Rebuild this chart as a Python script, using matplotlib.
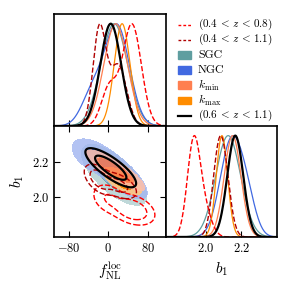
import numpy as np
import matplotlib
matplotlib.use('Agg')
import matplotlib.pyplot as plt
from matplotlib import rcParams
from matplotlib.lines import Line2D
from matplotlib.patches import Rectangle
from matplotlib.colors import to_rgb

rcParams['font.family'] = 'serif'
rcParams['font.serif'] = ['cmr10']
rcParams['mathtext.fontset'] = 'cm'
rcParams['axes.formatter.use_mathtext'] = True
rcParams['axes.linewidth'] = 1.2
rcParams['font.size'] = 9

# posterior summaries: mixture components
# (weight, mean fNL, mean b1, sigma fNL, sigma b1, correlation)
comp_z08 = [(0.76, 48, 1.93, 19, 0.036, -0.35),
            (0.24, 2, 1.99, 16, 0.04, -0.3)]
comp_z11 = [(0.55, -18, 2.10, 13, 0.036, -0.5),
            (0.45, 20, 2.065, 17, 0.034, -0.5)]
comp_sgc = [(1.0, 12, 2.125, 27, 0.07, -0.7)]
comp_ngc = [(0.78, 18, 2.14, 25, 0.062, -0.78),
            (0.22, -32, 2.23, 22, 0.05, -0.5)]
comp_kmin = [(1.0, 15, 2.15, 24, 0.047, -0.85)]
comp_kmax = [(1.0, 28, 2.09, 16, 0.032, -0.7)]
comp_main = [(1.0, 5, 2.165, 21, 0.045, -0.8)]

legend_texts = [r'$(0.4\,<\,z\,<\,0.8)$', r'$(0.4\,<\,z\,<\,1.1)$', 'SGC', 'NGC',
                r'$k_{\rm min}$', r'$k_{\rm max}$', r'$(0.6\,<\,z\,<\,1.1)$']
fnl_ticks = [-80, 0, 80]
b1_ticks = [2.0, 2.2]
fnl_lim = (-110, 117)
b1_lim = (1.775, 2.40)

F, B = np.meshgrid(np.linspace(*fnl_lim, 300), np.linspace(*b1_lim, 300))


def density(comps):
    p = np.zeros_like(F)
    for w, mf, mb, sf, sb, r in comps:
        x = (F - mf) / sf
        y = (B - mb) / sb
        q = (x**2 - 2*r*x*y + y**2) / (1 - r**2)
        p += w * np.exp(-0.5*q) / (sf*sb*np.sqrt(1 - r**2))
    return p


def levels(p):
    s = np.sort(p.ravel())[::-1]
    c = np.cumsum(s) / s.sum()
    return [s[np.searchsorted(c, 0.95)], s[np.searchsorted(c, 0.68)]]


def lighter(c, f=0.5):
    c = np.array(to_rgb(c))
    return tuple(c + (1 - c)*f)


fig = plt.figure(figsize=(2.91, 2.91), dpi=100)
W = 291.
ax_f = fig.add_axes([54/W, 1-126/W, 112/W, 112/W])
ax_2d = fig.add_axes([54/W, 1-237/W, 112/W, 111/W])
ax_b = fig.add_axes([166/W, 1-237/W, 111/W, 111/W])

fnl = F[0]
b1 = B[:, 0]

filled = [(comp_sgc, 'cadetblue', 0.8), (comp_ngc, 'royalblue', 0.8),
          (comp_kmax, 'darkorange', 0.9), (comp_kmin, 'coral', 0.85)]
lined = [(comp_z08, 'red', '--', 1.0), (comp_z11, '#b00000', '--', 1.0),
         (comp_main, 'black', '-', 1.6)]

for comps, col, a in filled:
    p = density(comps)
    l95, l68 = levels(p)
    ax_2d.contourf(F, B, p, levels=[l95, l68, p.max()*1.01],
                   colors=[lighter(col, 0.5), col], alpha=a)
    pf = p.sum(axis=0); pb = p.sum(axis=1)
    ax_f.plot(fnl, pf/pf.max(), color=col, lw=0.9)
    ax_b.plot(b1, pb/pb.max(), color=col, lw=0.9)

for comps, col, ls, lw in lined:
    p = density(comps)
    ax_2d.contour(F, B, p, levels=levels(p), colors=col, linestyles=ls, linewidths=lw)
    pf = p.sum(axis=0); pb = p.sum(axis=1)
    ax_f.plot(fnl, pf/pf.max(), color=col, ls=ls, lw=lw)
    ax_b.plot(b1, pb/pb.max(), color=col, ls=ls, lw=lw)

ax_f.set_xlim(fnl_lim); ax_f.set_ylim(0, 1.095)
ax_f.set_xticks(fnl_ticks); ax_f.set_xticklabels([]); ax_f.set_yticks([])
ax_f.tick_params(direction='in', length=4)

ax_2d.set_xlim(fnl_lim); ax_2d.set_ylim(b1_lim)
ax_2d.set_xticks(fnl_ticks); ax_2d.set_yticks(b1_ticks)
ax_2d.tick_params(direction='in', top=True, right=True, length=4, labelsize=9)
ax_2d.set_xlabel(r'$f_{\rm NL}^{\rm loc}$', fontsize=11)
ax_2d.set_ylabel(r'$b_1$', fontsize=11)

ax_b.set_xlim(b1_lim); ax_b.set_ylim(0, 1.095)
ax_b.set_xticks(b1_ticks); ax_b.set_yticks([])
ax_b.tick_params(direction='in', length=4, labelsize=9)
ax_b.set_xlabel(r'$b_1$', fontsize=11)

# legend rows placed by hand (pixel rows of the reference)
kinds = [('line', 'red', '--'), ('line', '#b00000', '--'),
         ('patch', 'cadetblue', None), ('patch', 'royalblue', None),
         ('patch', 'coral', None), ('patch', 'darkorange', None),
         ('line', 'black', '-')]
for i, ((kind, col, ls), txt) in enumerate(zip(kinds, legend_texts)):
    yc = 1 - (24.5 + 15.2*i)/W
    if kind == 'line':
        lw = 1.6 if ls == '-' else 1.0
        ln = Line2D([178/W, 191/W], [yc, yc], color=col, ls=ls, lw=lw,
                    transform=fig.transFigure)
        if ls == '--':
            ln.set_dashes((2, 1.5))
        fig.add_artist(ln)
    else:
        fig.add_artist(Rectangle((178/W, yc - 3.8/W), 13/W, 7.6/W, color=col,
                                 transform=fig.transFigure))
    fs = 8 if txt.startswith(r'$(') else 8.5
    fig.text(198/W, yc, txt, fontsize=fs, va='center', ha='left')

fig.savefig('out.png', dpi=100)
